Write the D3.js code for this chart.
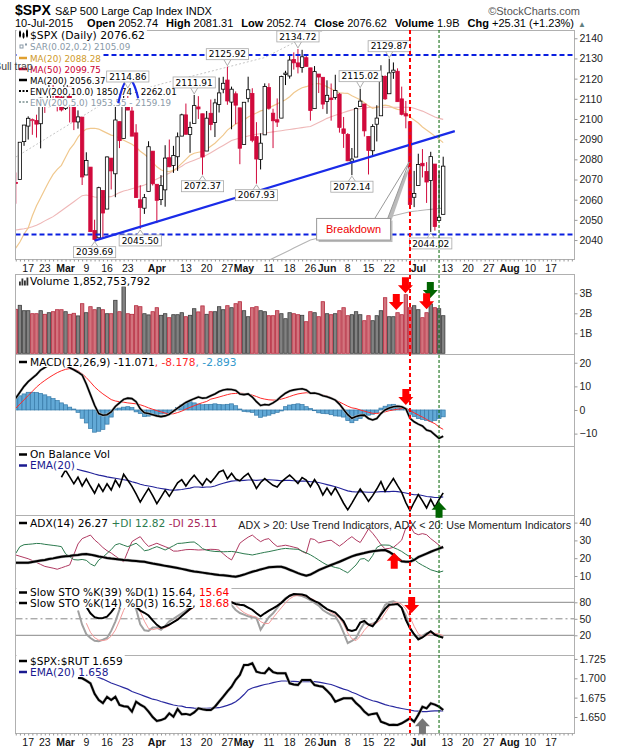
<!DOCTYPE html>
<html>
<head>
<meta charset="utf-8">
<script src="https://cdn.jsdelivr.net/npm/d3@7"></script>
<style>
body { margin: 0; background: #fff; }
svg { display: block; }
</style>
</head>
<body>
<div id="container"></div>
<script>
// ---------- calendar ----------
const holidays = ["2015-02-16", "2015-04-03", "2015-05-25", "2015-07-03"];
const firstDay = "2015-02-11";
const lastAxisDay = "2015-08-24";

// ---------- $SPX daily candles, 11-Feb-2015 .. 10-Jul-2015 ----------
const prevClose = 2068.59;
const opens = [2068.55,2069.98,2088.78,2096.47,2099.16,2099.25,2097.65,2109.83,2109.10,2115.30,2113.91,2110.88,
  2105.23,2115.76,2107.72,2098.54,2100.91,2072.25,2076.14,2044.69,2041.10,2064.56,2055.35,2080.59,2072.84,2098.69,2090.32,2107.99,2103.94,2093.10,2059.94,2055.78,2064.11,2084.05,
  2067.63,2060.03,2064.87,2080.79,2076.94,2081.29,2091.51,2102.03,2092.28,2097.82,2105.96,2102.58,2084.11,2102.82,2098.27,2107.21,2114.76,2119.29,2108.35,2112.49,2105.52,
  2087.38,2110.23,2112.63,2091.26,2079.96,2092.13,2115.56,2102.87,2099.62,2100.43,2122.07,2121.30,2129.45,2127.79,2125.55,2130.36,2125.34,2105.13,2122.27,2120.66,
  2108.64,2110.41,2110.64,2112.35,2095.09,2092.34,2079.07,2081.12,2106.24,2107.43,2091.34,2084.26,2097.40,2101.58,2121.06,2112.50,2123.16,2123.65,2109.96,2102.62,2098.63,2061.19,
  2067.00,2078.03,2073.95,2069.52,2077.66,2049.73,2052.74];
const highs = [2073.48,2088.53,2097.03,2101.30,2100.23,2102.13,2110.61,2110.05,2117.94,2119.59,2113.91,2112.74,
  2117.52,2115.76,2107.72,2104.25,2100.91,2083.49,2076.14,2050.08,2066.41,2064.56,2081.41,2080.59,2106.85,2098.69,2113.92,2114.86,2107.63,2097.43,2067.15,2062.83,2088.97,2084.05,
  2067.63,2072.17,2086.99,2089.81,2086.69,2093.31,2102.61,2107.65,2098.62,2111.91,2111.30,2102.58,2103.94,2109.64,2109.98,2120.49,2120.92,2125.92,2116.04,2113.65,2105.52,
  2108.41,2120.95,2115.24,2098.42,2092.90,2117.66,2117.69,2105.06,2110.19,2121.45,2123.89,2131.78,2133.02,2134.72,2134.28,2132.15,2125.34,2126.22,2122.27,2120.66,
  2119.15,2117.59,2121.92,2112.89,2100.99,2093.01,2085.62,2105.78,2115.02,2107.43,2091.34,2097.40,2106.79,2126.65,2121.64,2129.87,2128.03,2125.10,2116.04,2108.92,2098.63,2074.28,
  2082.78,2085.06,2078.61,2083.74,2077.66,2074.28,2081.31];
const lows = [2057.99,2069.98,2086.70,2089.80,2092.15,2090.79,2085.44,2103.00,2105.87,2109.89,2103.76,2103.75,
  2104.50,2098.26,2094.49,2095.22,2067.27,2072.21,2044.16,2039.69,2041.10,2041.17,2055.35,2065.08,2061.23,2085.56,2090.32,2104.42,2091.50,2061.05,2045.50,2052.96,2064.11,2067.04,
  2048.38,2057.32,2056.52,2076.10,2073.30,2074.29,2091.51,2092.33,2083.24,2097.82,2100.02,2072.37,2084.11,2094.38,2091.05,2103.19,2112.76,2107.04,2094.89,2097.41,2077.59,
  2087.38,2108.29,2088.46,2067.93,2074.99,2092.13,2104.58,2085.57,2096.04,2100.43,2116.81,2120.01,2124.50,2122.59,2122.95,2126.06,2099.18,2105.13,2112.86,2104.89,
  2102.54,2099.14,2109.61,2093.23,2085.67,2079.11,2072.14,2081.12,2106.24,2091.33,2072.49,2082.10,2088.86,2101.58,2109.45,2112.50,2119.89,2108.58,2101.78,2095.38,2056.64,2056.32,
  2067.00,2071.02,2058.40,2044.02,2044.66,2049.73,2052.74];
const closes = [2068.53,2088.48,2096.99,2100.34,2099.68,2097.45,2110.30,2109.66,2115.48,2113.86,2110.74,2104.50,
  2117.39,2107.78,2098.53,2101.04,2071.26,2079.43,2044.16,2040.24,2065.95,2053.40,2081.19,2074.28,2099.50,2089.27,2108.10,2104.42,2091.50,2061.05,2056.15,2061.02,2086.24,2067.89,
  2059.69,2066.96,2080.62,2076.33,2081.90,2091.18,2102.06,2092.43,2095.84,2106.63,2104.99,2081.18,2100.40,2097.29,2107.96,2112.93,2117.69,2108.92,2114.76,2106.85,2085.51,
  2108.29,2114.49,2089.46,2080.15,2088.00,2116.10,2105.33,2099.12,2098.48,2121.10,2122.73,2129.20,2127.83,2125.85,2130.82,2126.06,2104.20,2123.48,2120.79,2107.39,
  2111.73,2109.60,2114.07,2095.84,2092.83,2079.28,2080.15,2105.20,2108.86,2094.11,2084.43,2096.29,2100.44,2121.24,2109.99,2122.85,2124.20,2108.58,2102.31,2101.49,2057.64,2063.11,
  2077.42,2076.78,2068.76,2081.34,2046.68,2051.31,2076.62];

// overlays (price units)
const ma20 = [2036,2039,2043,2046,2052,2057,2061,2065,2069,2072.5,2075,2077,2081,2085,2087.5,2091,2093.5,2095,2095.3,2095.4,
  2095,2094,2093,2092,2091.5,2090.5,2089.5,2088.5,2087.5,2086,2084,2082.5,2080.8,2078.5,2076.3,2074.8,2074,2073.9,2074.5,2076,
  2078,2080,2082,2083,2083.5,2083.8,2085,2086.5,2088,2090,2092,2094.5,2096,2097.5,2098.5,2099.5,2101,2102,2103,2104,
  2104.5,2105.5,2106.5,2107.5,2108.5,2109.5,2111,2113,2114.4,2115.5,2116,2116.8,2117.5,2117.5,2117,2116,2115,2113.8,2113,2112.8,
  2112.7,2111.5,2110.5,2109.5,2108,2106.5,2105.3,2105.8,2106.5,2106.9,2106.5,2105.5,2104.8,2104.5,2103,2101,2099.5,2098,2096,2094.5,
  2093,2091.5,2090,2088.3];
const ma50 = [2045,2045.3,2045.6,2046,2046.6,2047.3,2048.3,2049.5,2050.6,2051.6,2053,2054.5,2056,2057.5,2059,2060.5,2062,2062.3,2061.8,2061.3,
  2061.2,2061.3,2061.4,2061.5,2062.5,2063.5,2064.3,2064.8,2065.4,2066,2066.6,2067.3,2068.2,2069.2,2070.3,2071.2,2072.2,2073.1,2074.3,2075.4,
  2076.6,2078,2078.8,2079.6,2080.4,2081.2,2082.1,2083.3,2084.5,2085.7,2086.9,2088.1,2089.3,2090,2090.6,2091.1,2091.6,2092.1,2092.4,2092.7,
  2093,2093.3,2093.6,2093.9,2094.2,2094.5,2094.8,2095.1,2095.4,2095.7,2096,2096.3,2097.3,2098.3,2099.3,2100.3,2101.1,2101.8,2102.5,2103.2,
  2103.9,2104.5,2104.8,2105.1,2105.4,2105.7,2105.8,2105.8,2105.8,2105.8,2105.8,2105.8,2105.8,2105.8,2105.8,2105.8,2105.3,2104.6,2103.9,2103,
  2102,2101,2100.3,2099.8];
const ma200 = [1982.0,1983.2,1984.4,1985.6,1986.8,1988.0,1989.2,1990.4,1991.6,1992.8,1994.0,1995.2,1996.4,1997.6,1998.8,2000.0,2001.2,2002.4,2003.6,2004.8,
  2006.0,2006.8,2007.6,2008.4,2009.2,2010.0,2010.7,2011.4,2012.1,2012.8,2013.5,2014.1,2014.7,2015.3,2015.9,2016.5,2017.0,2017.5,2018.0,2018.5,
  2019.0,2019.5,2020.0,2020.5,2021.0,2021.5,2022.0,2022.5,2023.0,2023.5,2024.0,2024.5,2025.0,2025.5,2026.0,2026.5,2027.0,2027.5,2028.0,2028.5,
  2029.0,2030.0,2031.0,2032.0,2033.0,2034.0,2035.0,2036.0,2037.0,2038.0,2039.0,2040.0,2040.5,2041.0,2041.6,2042.3,2043.0,2043.8,2044.5,2045.2,
  2046.0,2046.7,2047.4,2048.0,2048.5,2049.0,2049.5,2050.0,2050.5,2051.0,2051.5,2052.0,2052.5,2053.0,2053.5,2054.0,2054.3,2054.5,2054.8,2055.0,
  2055.2,2055.4,2055.6,2055.8];
const envPct = 5.0;

// volume, billions of shares
const volume = [2.2,2.4,2.13,2.13,1.98,1.98,2.13,1.95,2.03,2.08,2.18,2.18,
  2.08,1.95,2.0,1.87,2.48,2.03,2.33,2.18,2.28,2.18,1.98,1.98,2.65,2.08,3.33,1.98,1.95,2.38,2.33,1.98,1.92,2.08,
  2.28,1.9,1.98,1.78,1.93,1.93,2.03,1.83,1.9,2.23,2.07,2.37,1.95,2.08,2.08,2.33,2.18,2.38,2.28,2.48,2.58,
  2.13,1.83,2.28,2.33,2.13,2.08,1.88,1.88,2.13,1.98,1.73,2.03,1.98,1.93,1.9,1.58,2.08,2.03,1.83,2.58,
  1.98,1.93,1.98,2.13,2.28,1.88,1.93,2.08,1.93,1.63,1.88,1.63,1.88,2.13,2.78,1.83,1.83,2.03,1.93,2.93,2.28,2.38,
  2.18,1.78,2.03,2.47,2.28,2.23,1.88];

// MACD(12,26,9)
const macd = [5.0,7.5,10.0,12.0,13.5,15.0,16.9,18.0,19.0,19.5,19.6,19.3,19.0,17.9,17.0,16.0,14.8,11.0,6.5,2.0,
  -1.5,-2.2,-2.0,-0.8,1.5,3.0,4.5,5.0,4.8,3.5,0.5,-1.2,-1.5,-2.0,-2.5,-2.8,-2.5,-1.8,-0.5,0.8,
  2.0,3.2,4.0,4.8,5.5,5.0,5.2,6.0,6.8,7.8,8.5,8.8,8.7,8.3,6.8,6.5,6.8,5.5,3.5,1.9,
  2.3,2.1,3.0,4.2,5.8,7.1,8.0,8.5,8.8,9.0,8.5,7.1,7.2,6.8,6.0,5.6,5.0,4.2,2.5,0.2,
  -2.0,-3.5,-2.8,-2.3,-2.2,-3.6,-4.2,-3.6,-1.5,0.0,0.8,1.4,1.6,1.4,0.5,-3.5,-5.0,-6.0,-6.8,-8.5,
  -9.0,-10.5,-12.0,-11.1];
const macdSignal = [0.7,2.5,4.3,6.1,7.9,9.7,11.2,12.5,13.7,14.8,15.8,16.6,17.2,17.5,17.3,16.6,15.3,13.7,11.8,9.8,
  8.2,6.8,5.6,4.4,3.8,3.5,3.3,3.0,2.8,2.6,2.2,1.6,0.9,0.3,-0.3,-0.8,-1.3,-1.7,-1.6,-1.1,
  -0.5,0.4,1.1,1.8,2.5,3.1,3.6,4.6,5.0,5.5,6.0,6.5,6.9,7.0,7.1,7.0,6.8,6.3,5.7,5.0,
  4.6,4.3,4.2,4.2,4.6,5.1,5.7,6.3,6.8,7.1,7.3,7.2,7.1,6.8,6.3,5.9,5.2,4.3,3.4,2.5,
  1.6,0.9,0.6,0.0,-0.5,-1.0,-1.4,-1.5,-1.2,-0.8,-0.3,0.0,0.3,0.6,0.7,-0.2,-1.2,-2.1,-3.0,-4.0,
  -5.0,-5.8,-7.2,-8.2];
const macdHist = [5.2,6.0,6.8,7.5,7.5,7.4,7.0,6.4,5.6,4.8,4.0,3.0,2.2,1.2,0.4,-1.0,-3.5,-5.5,-7.8,-9.4,
  -9.0,-8.2,-6.0,-3.0,0.5,0.8,1.2,1.4,1.0,-0.8,-1.5,-2.8,-2.6,-2.3,-2.0,-1.7,-1.4,-1.2,-0.6,1.0,
  2.1,3.0,3.5,3.0,2.5,2.2,2.3,2.4,2.6,2.3,2.2,2.4,2.6,1.8,0.4,-0.6,-0.8,-1.0,-2.2,-3.1,
  -2.6,-2.2,-1.6,-1.0,-0.4,1.4,2.1,2.4,2.6,2.3,1.4,0.6,-0.3,-1.2,-1.5,-1.6,-2.0,-2.5,-2.6,-3.0,
  -4.5,-5.4,-4.4,-3.6,-2.8,-2.2,-1.8,-1.0,0.8,1.6,2.2,2.4,2.0,1.4,0.4,-1.8,-2.8,-3.6,-4.0,-4.4,
  -4.9,-4.4,-3.6,-2.9];

// On Balance Volume (billions, relative) from 27-Feb, EMA(20) from 2-Mar
const obvFrom = "2015-02-27";
const obv = [-2.50,-0.42,-2.37,-4.37,-2.50,-4.98,-2.95,-5.08,-7.06,
  -4.58,-6.56,-4.38,-6.16,-3.31,-5.19,-1.66,-3.34,-5.09,-7.27,
  -9.60,-7.62,-5.70,-7.78,-10.06,-8.16,-6.18,-7.96,-6.03,-4.10,
  -3.2,-5.0,-3.3,-1.9,-3.4,-4.8,-2.9,-4.0,-2.6,-1.0,
  -0.5,-2.9,-1.4,-3.0,-3.5,-2.3,-1.4,-3.4,-5.7,-4.0,
  -2.9,-3.9,-4.8,-5.3,-3.8,-2.8,-1.9,-3.0,-4.3,-2.6,
  -3.3,-5.17,-3.14,-4.97,-7.55,-5.57,-7.50,-5.52,-7.65,-9.93,
  -11.81,-9.88,-7.80,-5.87,-7.50,-9.38,-7.75,-5.87,-3.74,-6.52,
  -4.69,-2.86,-4.89,-6.82,-9.75,-12.03,-9.65,-7.47,-9.25,-11.28,
  -8.81,-11.09,-8.86,-6.98];
const obvEmaFrom = "2015-03-02";
const obvEma = [0.5,0.3,0.0,-0.3,-0.6,-0.9,-1.2,-1.6,
  -1.9,-2.1,-2.4,-2.6,-2.8,-3.0,-3.2,-3.4,-3.8,-4.1,
  -4.5,-4.8,-5.0,-5.2,-5.5,-5.7,-5.9,-6.1,-6.2,-6.1,
  -6.0,-5.8,-5.6,-5.3,-5.3,-5.4,-5.3,-5.3,-5.0,-4.6,
  -4.2,-3.9,-3.6,-3.5,-3.5,-3.4,-3.3,-3.3,-3.4,-3.3,
  -3.2,-3.2,-3.3,-3.4,-3.5,-3.4,-3.4,-3.5,-3.6,-3.6,
  -3.6,-3.8,-3.8,-4.0,-4.3,-4.6,-4.9,-5.2,-5.6,-6.0,
  -6.4,-6.6,-6.7,-6.6,-6.7,-6.8,-6.8,-6.7,-6.6,-6.6,
  -6.6,-6.5,-6.6,-6.8,-7.0,-7.3,-7.5,-7.5,-7.7,-8.0,
  -8.1,-8.3,-8.3,-8.1];

// ADX(14), +DI, -DI
const adx = [17.5,17.5,17.5,17.5,17.9,18.3,18.7,19.0,19.5,19.9,20.4,20.8,21.1,21.3,21.6,21.8,22.2,22.4,22.0,21.5,
  21.0,20.6,20.1,19.8,19.6,19.3,19.0,18.8,18.6,18.4,18.2,18.0,17.5,17.0,16.6,16.2,15.7,15.3,14.9,14.5,
  14.0,13.5,13.0,12.5,12.2,11.9,11.6,11.2,10.9,10.6,10.4,10.1,9.8,9.6,10.1,10.8,11.6,12.4,13.0,13.7,
  14.3,14.9,15.1,15.2,15.2,14.5,13.5,12.6,11.6,10.8,10.2,10.8,12.0,13.3,14.3,15.3,16.2,17.1,18.0,19.0,
  20.0,21.0,21.8,22.4,22.9,23.5,23.9,24.2,24.5,24.6,23.5,22.0,20.0,18.3,18.0,18.0,19.0,20.6,21.6,22.6,
  23.6,24.5,25.4,26.3];
const plusDI = [22.7,26.5,27.6,27.8,28.0,28.3,28.2,27.8,27.5,27.2,26.9,26.5,22.5,20.8,19.2,19.0,19.3,18.8,16.8,15.6,
  19.0,20.6,22.7,24.8,27.5,28.2,27.3,26.5,27.4,28.4,26.5,24.2,24.6,25.6,26.5,25.6,24.6,25.8,27.0,28.3,
  28.4,28.7,29.0,29.1,27.5,25.4,24.5,24.1,23.8,23.7,23.6,23.7,23.8,23.5,23.0,22.5,22.2,21.8,22.3,22.8,
  23.3,23.7,24.2,24.7,25.2,25.5,25.3,25.1,25.0,24.0,23.0,21.9,20.5,19.0,17.5,16.2,15.5,14.8,14.3,13.0,
  11.8,14.0,16.2,19.5,19.8,18.2,21.5,26.0,27.4,27.4,27.3,26.0,25.0,23.8,22.2,20.8,19.3,17.4,16.0,14.8,
  13.5,12.8,12.1,12.8];
const minusDI = [21.8,21.1,20.4,19.7,18.7,17.6,16.5,15.4,14.9,14.4,13.8,14.6,15.4,16.2,22.0,28.0,31.0,32.0,33.0,30.3,
  28.3,26.0,24.2,22.9,21.2,19.5,18.0,23.8,29.3,30.8,32.1,29.0,26.6,27.5,28.4,27.4,26.5,25.5,24.0,24.0,
  24.4,24.8,24.9,24.8,24.6,24.7,24.8,25.0,24.9,24.6,22.5,20.5,19.0,23.5,28.4,30.2,31.8,33.0,31.0,29.3,
  30.5,31.0,28.5,26.6,26.9,27.3,26.8,26.2,25.6,23.8,22.7,31.0,30.5,28.6,29.2,29.8,30.1,28.4,26.8,28.5,
  30.5,32.1,30.2,28.8,32.5,36.5,34.0,31.0,27.6,25.3,25.5,26.1,28.0,30.2,37.0,38.2,34.2,33.2,33.8,33.2,
  31.0,29.2,27.3,25.5];

// Slow stochastics
const stoK14From = "2015-03-05";
const stoK14 = [65,39.3,22,15.1,10,9.1,12,15.1,28,45,
  66.5,85,88,82,68,40,29,28,34,34,
  30.2,37,45.5,50,55,60,65,72,77,81.5,
  76,75,80,84.7,87,89,83,75,66,60.5,
  57.5,54.5,53,51.5,30.2,42,53,60,70,80,
  87.5,91.5,93.8,93,91.5,88,84,79,74,66,
  61,57,54.5,42,25,6.0,10,15.1,30,42.4,
  40,41,45.5,60,75,80,81.8,78,70,56,
  33.3,20,15.1,19,24,26,21.5,20,16.5];
const stoFrom = "2015-03-09";
const stoK39 = [72,60,53,51,51.5,54,62,72,80,86,
  87,82,72,65,61,56,47,39,33.5,36,
  39.3,44,48.4,55,61.5,68,72.5,76,75,71,
  74,80,84.5,87.5,84,80,77,75.5,74.5,70.5,
  66.5,60,54.5,60,64.7,69,73.5,79,86,92,
  95.1,94.8,94.3,92,86,82,79,73,67.5,64.5,
  61.5,54,45.5,30,28,30.2,43,46,39.3,36.5,
  46,57.5,68,75.6,76.2,76.9,70,48,33,22,
  12.5,16,22,27.3,21,18,15.6];
const stoD3 = [42,25.5,15.7,11.4,10.4,12.1,18.4,29.4,46.5,65.5,
  79.8,85,79.3,63.3,45.7,32.3,30.3,32,32.7,33.7,
  37.6,44.2,50.2,55,60,65.7,71.3,76.8,78.2,77.5,
  77,79.9,83.9,86.9,86.3,82.3,74.7,67.2,61.3,57.5,
  55,53,44.9,41.2,41.7,51.7,61,70,79.2,86.3,
  90.9,92.8,92.8,90.8,87.8,83.7,79,73,67,61.3,
  57.5,51.2,40.5,24.3,13.7,10.4,18.4,29.2,37.5,41.1,
  42.2,48.8,60.2,71.7,78.9,79.9,76.6,68,53.1,36.4,
  22.8,18,19.4,23,23.8,22.5,19.3];

// $SPX:$RUT ratio and EMA(20)
const rutFrom = "2015-03-05";
const spxRut = [1.7008,1.700,1.697,1.6935,1.680,1.672,1.668,1.676,1.672,1.676,
  1.6655,1.664,1.6633,1.657,1.6698,1.666,1.663,1.657,1.650,1.6448,
  1.646,1.6483,1.6548,1.6504,1.6603,1.6535,1.654,1.6526,1.656,1.6612,
  1.660,1.659,1.659,1.6633,1.670,1.6762,1.683,1.6891,1.698,1.7043,
  1.7172,1.7172,1.7194,1.7085,1.707,1.7065,1.7129,1.708,1.7065,1.7065,
  1.7065,1.6935,1.692,1.6913,1.6978,1.6978,1.6978,1.6913,1.690,1.6891,
  1.684,1.6784,1.6698,1.672,1.6741,1.6741,1.6741,1.668,1.6633,1.657,
  1.6526,1.654,1.6548,1.644,1.642,1.6397,1.640,1.6397,1.6419,1.645,
  1.6483,1.644,1.653,1.6633,1.6612,1.6677,1.666,1.6633,1.659];
const rutEmaFrom = "2015-03-11";
const spxRutEma = [1.7035,1.701,1.699,1.6965,1.694,1.692,1.690,1.688,1.686,1.683,
  1.681,1.679,1.677,1.675,1.673,1.672,1.670,1.6685,1.667,1.6655,
  1.6645,1.664,1.6625,1.662,1.6615,1.6612,1.6612,1.6613,1.6615,1.6618,
  1.662,1.6635,1.665,1.667,1.6698,1.674,1.679,1.685,1.6875,1.689,
  1.6905,1.692,1.693,1.6945,1.6955,1.6965,1.6965,1.6962,1.696,1.6957,
  1.6956,1.6956,1.6956,1.6956,1.695,1.694,1.693,1.692,1.690,1.688,
  1.686,1.6845,1.682,1.680,1.6775,1.675,1.673,1.671,1.6698,1.668,
  1.666,1.6645,1.6633,1.662,1.661,1.660,1.659,1.658,1.6575,1.657,
  1.657,1.6575,1.658,1.658,1.658];

// axis ticks
const dateTicks = [["2015-02-17","17"],["2015-02-23","23"],["2015-03-02","Mar",1],["2015-03-09","9"],["2015-03-16","16"],
  ["2015-03-23","23"],["2015-04-01","Apr",1],["2015-04-13","13"],["2015-04-20","20"],["2015-04-27","27"],["2015-05-01","May",1],
  ["2015-05-11","11"],["2015-05-18","18"],["2015-05-26","26"],["2015-06-01","Jun",1],["2015-06-08","8"],["2015-06-15","15"],
  ["2015-06-22","22"],["2015-07-01","Jul",1],["2015-07-13","13"],["2015-07-20","20"],["2015-07-27","27"],["2015-08-03","Aug",1],
  ["2015-08-10","10"],["2015-08-17","17"]];
const priceTicks = [2040, 2050, 2060, 2070, 2080, 2090, 2100, 2110, 2120, 2130, 2140];
const volTicks = [1, 2, 3];
const macdTicks = [-10, 0, 10, 20];
const adxTicks = [10, 20, 30, 40];
const stoTicks = [20, 50, 80];
const rutTicks = [1.650, 1.675, 1.700, 1.725];

// annotations
const hLevels = [2131.7, 2042.8];
const trendLine = [[19, 2039.7], [105.8, 2094]];
const bullTrapArc = [[24.7, 2107.8], [27.1, 2130.35], [29.5, 2110.3]];
const priceTags = [["2015-03-11", 2039.69, "below"], ["2015-03-26", 2045.50, "below"], ["2015-03-23", 2114.86, "above"],
  ["2015-04-15", 2111.91, "above"], ["2015-04-27", 2125.92, "above"], ["2015-04-17", 2072.37, "below"],
  ["2015-05-06", 2067.93, "below"], ["2015-05-20", 2134.72, "above"], ["2015-06-22", 2129.87, "above"],
  ["2015-06-11", 2115.02, "above"], ["2015-06-09", 2072.14, "below"], ["2015-07-07", 2044.02, "below"]];
const redLineDay = "2015-06-29";
const greenLineDay = "2015-07-09";

// ---------- layout ----------
const ARIAL = "'Liberation Sans', Arial, sans-serif";
const LEG = "'DejaVu Sans', Verdana, sans-serif";
const L = 15.5, R = 574.5;
const panels = {
  price: [30, 259], vol: [274, 354], macd: [354, 446], obv: [446, 515],
  adx: [515, 588], sto: [588, 655], rut: [655, 733]
};

const days = [];
for (let t = Date.parse(firstDay + "T00:00:00Z"); t <= Date.parse(lastAxisDay + "T00:00:00Z"); t += 864e5) {
  const d = new Date(t), s = d.toISOString().slice(0, 10), wd = d.getUTCDay();
  if (wd > 0 && wd < 6 && !holidays.includes(s)) days.push(s);
}
const idx = s => days.indexOf(s);
const series = (arr, from) => arr.map((v, k) => ({ i: idx(from) + k, v }));

const x = d3.scaleLinear().domain([0, 134.4]).range([15.75, 573.5]);
const yP = d3.scaleLinear().domain([2031.1, 2144.1]).range([258, 30]);
const yV = d3.scaleLinear().domain([0, 4]).range([353.3, 273.3]);
const yM = d3.scaleLinear().domain([-15.25, 23.7]).range([446, 354]);
const yO = d3.scaleLinear().domain([-13.29, 6.43]).range([515, 446]);
const yA = d3.scaleLinear().domain([3.26, 44.27]).range([588, 515]);
const yS = d3.scaleLinear().domain([-15.8, 106]).range([655, 588]);
const yR = d3.scaleLinear().domain([1.62933, 1.7301]).range([733, 655]);

const svg = d3.select("#container").append("svg")
  .attr("width", 620).attr("height", 750)
  .style("font-family", ARIAL);

const defs = svg.append("defs");
Object.entries(panels).forEach(([k, p]) => {
  defs.append("clipPath").attr("id", "clip-" + k)
    .append("rect").attr("x", L).attr("y", p[0]).attr("width", R - L).attr("height", p[1] - p[0]);
});
const layer = k => svg.append("g").attr("clip-path", `url(#clip-${k})`);

// ---------- header ----------
svg.append("text").attr("x", 15).attr("y", 15).style("font-weight", "bold").style("font-size", "14px").text("$SPX");
svg.append("text").attr("x", 55).attr("y", 15).style("font-size", "11px").text("S&P 500 Large Cap Index INDX");
svg.append("text").attr("x", 580).attr("y", 15).attr("text-anchor", "end").style("font-size", "11px").attr("fill", "#555").text("\u00a9StockCharts.com");
const headerStats = [["Open", "2052.74"], ["High", "2081.31"], ["Low", "2052.74"], ["Close", "2076.62"], ["Volume", "1.9B"], ["Chg", "+25.31 (+1.23%)"]];
const hdr = svg.append("text").attr("x", 15).attr("y", 27).style("font-size", "11px");
hdr.append("tspan").text("10-Jul-2015");
headerStats.forEach(([k, v], n) => {
  hdr.append("tspan").attr("dx", n === 0 ? 14 : 8).style("font-weight", "bold").text(k);
  hdr.append("tspan").text(" " + v);
});
hdr.append("tspan").attr("dx", 4).attr("fill", "#5f7f7f").style("font-size", "8px").text("\u25b2");

// ---------- price panel ----------
const gP = layer("price");
const linePrice = d3.line().x(d => x(d.i)).y(d => yP(d.v));
gP.append("path").datum(series(ma200.map(v => v * (1 + envPct / 100)), firstDay))
  .attr("d", linePrice).attr("fill", "none").attr("stroke", "#c4c4c4").attr("stroke-width", 1).attr("stroke-dasharray", "2,2");
gP.append("path").datum(series(ma200, firstDay)).attr("d", linePrice).attr("fill", "none").attr("stroke", "#b5b5b5").attr("stroke-width", 1.1);
gP.append("path").datum(series(ma50, firstDay)).attr("d", linePrice).attr("fill", "none").attr("stroke", "#efb8b8").attr("stroke-width", 1.1);
gP.append("path").datum(series(ma20, firstDay)).attr("d", linePrice).attr("fill", "none").attr("stroke", "#f0c88e").attr("stroke-width", 1.2);

const candles = opens.map((o, k) => ({
  i: k, o, h: highs[k], l: lows[k], c: closes[k], prev: k ? closes[k - 1] : prevClose
}));
const RED = "#d10a3c";
const cg = gP.append("g");
cg.selectAll("line").data(candles).enter().append("line")
  .attr("x1", d => x(d.i)).attr("x2", d => x(d.i))
  .attr("y1", d => yP(d.h)).attr("y2", d => yP(d.l))
  .attr("stroke", d => d.c < d.prev ? RED : "#000").attr("stroke-width", 1);
cg.selectAll("rect").data(candles).enter().append("rect")
  .attr("x", d => x(d.i) - 1.7).attr("width", 3.4)
  .attr("y", d => yP(Math.max(d.o, d.c)))
  .attr("height", d => Math.max(1, Math.abs(yP(d.o) - yP(d.c))))
  .attr("fill", d => d.c > d.o ? "#fff" : (d.c < d.prev ? RED : "#000"))
  .attr("stroke", d => d.c < d.prev ? RED : "#000").attr("stroke-width", 0.8);

// horizontal levels and trend line
hLevels.forEach(p => {
  gP.append("line").attr("x1", L).attr("x2", R).attr("y1", yP(p)).attr("y2", yP(p))
    .attr("stroke", "#0a1fe0").attr("stroke-width", 2).attr("stroke-dasharray", "5,3");
});
gP.append("line")
  .attr("x1", x(trendLine[0][0])).attr("y1", yP(trendLine[0][1]))
  .attr("x2", x(trendLine[1][0])).attr("y2", yP(trendLine[1][1]))
  .attr("stroke", "#1a2be8").attr("stroke-width", 2.2);

// ---------- volume ----------
const gV = layer("vol");
gV.selectAll("rect").data(candles).enter().append("rect")
  .attr("x", d => x(d.i) - 1.7).attr("width", 3.4)
  .attr("y", d => yV(volume[d.i])).attr("height", d => yV(0) - yV(volume[d.i]))
  .attr("fill", d => d.c < d.prev ? "#d2747e" : "#828282")
  .attr("stroke", d => d.c < d.prev ? "#b52a3e" : "#3c3c3c").attr("stroke-width", 0.8);

// ---------- MACD ----------
const gM = layer("macd");
const hist = series(macdHist, firstDay);
gM.selectAll("rect").data(hist).enter().append("rect")
  .attr("x", d => x(d.i) - 2).attr("width", 4)
  .attr("y", d => yM(Math.max(0, d.v))).attr("height", d => Math.abs(yM(d.v) - yM(0)))
  .attr("fill", "#62a9d6").attr("stroke", "#3579a8").attr("stroke-width", 0.7);
const lineM = d3.line().x(d => x(d.i)).y(d => yM(d.v));
gM.append("path").datum(series(macdSignal, firstDay)).attr("d", lineM).attr("fill", "none").attr("stroke", "#ff2a2a").attr("stroke-width", 1);
gM.append("path").datum(series(macd, firstDay)).attr("d", lineM).attr("fill", "none").attr("stroke", "#bbb").attr("stroke-width", 2.6);
gM.append("path").datum(series(macd, firstDay)).attr("d", lineM).attr("fill", "none").attr("stroke", "#000").attr("stroke-width", 1.6);

// ---------- OBV ----------
const gO = layer("obv");
const lineO = d3.line().x(d => x(d.i)).y(d => yO(d.v));
gO.append("path").datum(series(obvEma, obvEmaFrom)).attr("d", lineO).attr("fill", "none").attr("stroke", "#23239a").attr("stroke-width", 1.1);
gO.append("path").datum(series(obv, obvFrom)).attr("d", lineO).attr("fill", "none").attr("stroke", "#000").attr("stroke-width", 1.6);

// ---------- ADX ----------
const gA = layer("adx");
const lineA = d3.line().x(d => x(d.i)).y(d => yA(d.v));
gA.append("path").datum(series(minusDI, firstDay)).attr("d", lineA).attr("fill", "none").attr("stroke", "#b03a62").attr("stroke-width", 1);
gA.append("path").datum(series(plusDI, firstDay)).attr("d", lineA).attr("fill", "none").attr("stroke", "#2c7a4e").attr("stroke-width", 1);
gA.append("path").datum(series(adx, firstDay)).attr("d", lineA).attr("fill", "none").attr("stroke", "#aaa").attr("stroke-width", 3);
gA.append("path").datum(series(adx, firstDay)).attr("d", lineA).attr("fill", "none").attr("stroke", "#000").attr("stroke-width", 2);

// ---------- Stochastics ----------
const gS = layer("sto");
[[80, null], [50, "7,3,2,3"], [20, null]].forEach(([v, dash]) => {
  gS.append("line").attr("x1", L).attr("x2", R).attr("y1", yS(v)).attr("y2", yS(v))
    .attr("stroke", "#888").attr("stroke-width", 1).attr("stroke-dasharray", dash);
});
const lineS = d3.line().x(d => x(d.i)).y(d => yS(d.v));
gS.append("path").datum(series(stoK14, stoK14From)).attr("d", lineS).attr("fill", "none").attr("stroke", "#a0a0a0").attr("stroke-width", 2);
gS.append("path").datum(series(stoD3, stoFrom)).attr("d", lineS).attr("fill", "none").attr("stroke", "#f29a9a").attr("stroke-width", 1);
gS.append("path").datum(series(stoK39, stoFrom)).attr("d", lineS).attr("fill", "none").attr("stroke", "#000").attr("stroke-width", 2);

// ---------- SPX:RUT ----------
const gR = layer("rut");
const lineR = d3.line().x(d => x(d.i)).y(d => yR(d.v));
gR.append("path").datum(series(spxRutEma, rutEmaFrom)).attr("d", lineR).attr("fill", "none").attr("stroke", "#2a2aa0").attr("stroke-width", 1.2);
gR.append("path").datum(series(spxRut, rutFrom)).attr("d", lineR).attr("fill", "none").attr("stroke", "#bbb").attr("stroke-width", 3);
gR.append("path").datum(series(spxRut, rutFrom)).attr("d", lineR).attr("fill", "none").attr("stroke", "#000").attr("stroke-width", 2);

// ---------- frames and axes ----------
Object.values(panels).forEach(p => {
  svg.append("rect").attr("x", L).attr("y", p[0] + 0.5).attr("width", R - L).attr("height", p[1] - p[0])
    .attr("fill", "none").attr("stroke", "#b0b0b0");
});
function rightAxis(scale, vals, fmt) {
  svg.append("g").attr("transform", `translate(${R},0)`)
    .call(d3.axisRight(scale).tickValues(vals).tickFormat(fmt).tickSize(3).tickPadding(2))
    .call(g => g.select(".domain").remove())
    .call(g => g.selectAll("line").attr("stroke", "#999"))
    .call(g => g.selectAll("text").style("font-family", ARIAL).style("font-size", "10.5px").attr("fill", "#222"));
}
rightAxis(yP, priceTicks, d3.format("d"));
rightAxis(yV, volTicks, d => d + "B");
rightAxis(yM, macdTicks, d3.format("d"));
rightAxis(yA, adxTicks, d3.format("d"));
rightAxis(yS, stoTicks, d3.format("d"));
rightAxis(yR, rutTicks, d3.format(".3f"));

function dateAxis(yLine, yText) {
  svg.append("g").attr("transform", `translate(0,${yLine})`)
    .call(d3.axisBottom(x).tickValues(d3.range(days.length)).tickSize(2).tickFormat(""))
    .call(g => g.select(".domain").remove())
    .call(g => g.selectAll("line").attr("stroke", "#999"));
  const g = svg.append("g");
  g.selectAll("text").data(dateTicks).enter().append("text")
    .attr("x", d => x(idx(d[0]))).attr("y", yText).attr("text-anchor", "middle")
    .style("font-size", "10.5px").style("font-weight", d => d[2] ? "bold" : "normal")
    .attr("fill", "#111").text(d => d[1]);
}
dateAxis(panels.price[1] + 0.5, 271.5);
dateAxis(panels.rut[1] + 0.5, 746);

// ---------- legends ----------
function legend(yBase, parts, icon, size) {
  const g = svg.append("g");
  const t = g.append("text").attr("x", 30).attr("y", yBase)
    .style("font-family", LEG).style("font-size", (size || 10.6) + "px");
  parts.forEach(p => t.append("tspan").attr("fill", p[1]).text(p[0]));
  const bb = t.node().getBBox();
  g.insert("rect", "text").attr("x", L + 1).attr("y", bb.y + 0.5)
    .attr("width", bb.x + bb.width - L + 1).attr("height", bb.height - 1).attr("fill", "#fff");
  const cy = yBase - 3.5;
  if (icon.type === "dash") {
    g.append("line").attr("x1", 19).attr("x2", 27).attr("y1", cy).attr("y2", cy)
      .attr("stroke", icon.c).attr("stroke-width", 2.5);
  } else if (icon.type === "dot") {
    g.append("line").attr("x1", 19).attr("x2", 28).attr("y1", cy).attr("y2", cy)
      .attr("stroke", icon.c).attr("stroke-width", 2).attr("stroke-dasharray", "2,1.5");
  } else if (icon.type === "sar") {
    g.append("rect").attr("x", 20).attr("y", cy - 1.5).attr("width", 3).attr("height", 3).attr("fill", "none").attr("stroke", "#8a9aa8");
    g.append("rect").attr("x", 25).attr("y", cy - 3).attr("width", 2).attr("height", 2).attr("fill", "#8a9aa8");
  } else if (icon.type === "candle") {
    [[20, -4, 5], [23.5, -2, 4], [27, -5, 6]].forEach(([cx, dy, hh]) => {
      g.append("line").attr("x1", cx).attr("x2", cx).attr("y1", cy + dy - 1).attr("y2", cy + dy + hh + 1).attr("stroke", "#000");
      g.append("rect").attr("x", cx - 1).attr("y", cy + dy).attr("width", 2).attr("height", hh).attr("fill", "#000");
    });
  } else if (icon.type === "bars") {
    [[19, 4], [21.5, 7], [24, 5], [26.5, 8]].forEach(([bx, bh]) => {
      g.append("rect").attr("x", bx).attr("y", cy + 4 - bh).attr("width", 1.8).attr("height", bh).attr("fill", "#333");
    });
  }
}
legend(39, [["$SPX (Daily) 2076.62", "#000"]], { type: "candle" }, 10.8);
legend(50, [["SAR(0.02,0.2) 2105.09", "#8a9aa8"]], { type: "sar" }, 8.8);
legend(61.5, [["MA(20) 2088.28", "#cf9a2a"]], { type: "dash", c: "#e0a030" }, 8.8);
legend(72.5, [["MA(50) 2099.75", "#cc0033"]], { type: "dash", c: "#cc0033" }, 8.8);
legend(83.5, [["MA(200) 2056.37", "#000"]], { type: "dash", c: "#000" }, 8.7);
legend(94.5, [["ENV(200,10.0) 1850.74 - 2262.01", "#000"]], { type: "dot", c: "#000" }, 8.7);
legend(105.5, [["ENV(200,5.0) 1953.55 - 2159.19", "#8a9aa8"]], { type: "dot", c: "#9aa" }, 8.7);
legend(285, [["Volume 1,852,753,792", "#000"]], { type: "bars" });
legend(365.5, [["MACD(12,26,9) -11.071", "#000"], [", -8.178", "#ff2a2a"], [", -2.893", "#3399cc"]], { type: "dash", c: "#000" });
legend(458, [["On Balance Vol", "#000"]], { type: "dash", c: "#000" });
legend(469, [["EMA(20)", "#1a1a90"]], { type: "dash", c: "#1a1a90" });
legend(526.5, [["ADX(14) 26.27 ", "#000"], ["+DI 12.82 ", "#2c7a4e"], ["-DI 25.11", "#a8285a"]], { type: "dash", c: "#000" });
legend(596, [["Slow STO %K(39) %D(1) 15.64, ", "#000"], ["15.64", "#ff0000"]], { type: "dash", c: "#000" });
legend(606.5, [["Slow STO %K(14) %D(3) 16.52, ", "#000"], ["18.68", "#ff0000"]], { type: "dash", c: "#000" });
legend(664.5, [["$SPX:$RUT 1.659", "#000"]], { type: "dash", c: "#000" });
legend(675.5, [["EMA(20) 1.658", "#1a1a90"]], { type: "dash", c: "#1a1a90" });

svg.append("text").attr("x", 571).attr("y", 528.5).attr("text-anchor", "end")
  .style("font-size", "10.7px").attr("fill", "#222")
  .text("ADX > 20: Use Trend Indicators, ADX < 20: Use Momentum Indicators");
svg.append("text").attr("x", x(-5.2)).attr("y", yP(2124.3)).style("font-size", "10.5px").attr("fill", "#444").text("Bull trap");

// bull-trap arc over the legend rows
svg.append("path")
  .attr("d", `M${x(bullTrapArc[0][0])},${yP(bullTrapArc[0][1])} Q${x(bullTrapArc[1][0])},${yP(bullTrapArc[1][1])} ${x(bullTrapArc[2][0])},${yP(bullTrapArc[2][1])}`)
  .attr("fill", "none").attr("stroke", "#1a2be8").attr("stroke-width", 2.2);

// ---------- price tags ----------
priceTags.forEach(([day, p, pos]) => {
  const cx = x(idx(day)), py = yP(p), h = 11;
  const g = svg.append("g");
  const t = g.append("text").attr("x", cx).attr("text-anchor", "middle")
    .style("font-family", LEG).style("font-size", "9px").text(p.toFixed(2));
  const w = t.node().getComputedTextLength() + 5;
  const top = pos === "above" ? py - 7 - h : py + 6;
  t.attr("y", top + 8.6);
  const base = pos === "above" ? top + h : top;
  const tip = pos === "above" ? py - 1 : py + 1;
  g.insert("path", "text").attr("d", `M${cx - 3.5},${base}L${cx},${tip}L${cx + 3.5},${base}`)
    .attr("fill", "#fff").attr("stroke", "#9a9a9a").attr("stroke-width", 0.8);
  g.insert("rect", "text").attr("x", cx - w / 2).attr("y", top).attr("width", w).attr("height", h)
    .attr("fill", "#fff").attr("stroke", "#a8a8a8").attr("stroke-width", 0.8);
});

// Breakdown callout
const bx0 = x(72.5), bx1 = x(90.3), by0 = yP(2050.7), by1 = yP(2040);
const tipX = x(94.8), tipY = yP(2078.7);
const callout = svg.append("g");
callout.append("path").attr("d", `M${bx1 - 14},${by0 + 2}L${tipX + 2},${tipY + 2}L${bx1 + 1},${by0 + 2}Z`).attr("fill", "#bbb");
callout.append("rect").attr("x", bx0 + 2).attr("y", by0 + 2).attr("width", bx1 - bx0).attr("height", by1 - by0).attr("fill", "#bbb");
callout.append("path").attr("d", `M${bx1 - 16},${by0 + 0.5}L${tipX},${tipY}L${bx1 - 3},${by0 + 0.5}`).attr("fill", "#fff").attr("stroke", "#999");
callout.append("rect").attr("x", bx0).attr("y", by0).attr("width", bx1 - bx0).attr("height", by1 - by0).attr("fill", "#fff").attr("stroke", "#999");
callout.append("text").attr("x", (bx0 + bx1) / 2).attr("y", by0 + 15).attr("text-anchor", "middle")
  .style("font-size", "11px").attr("fill", "#ee0000").text("Breakdown");

// ---------- vertical markers ----------
svg.append("line").attr("x1", x(idx(redLineDay))).attr("x2", x(idx(redLineDay))).attr("y1", panels.price[0]).attr("y2", panels.rut[1])
  .attr("stroke", "#ff0000").attr("stroke-width", 2).attr("stroke-dasharray", "4,3");
svg.append("line").attr("x1", x(idx(greenLineDay))).attr("x2", x(idx(greenLineDay))).attr("y1", panels.price[0]).attr("y2", panels.rut[1])
  .attr("stroke", "#006400").attr("stroke-width", 1).attr("stroke-dasharray", "3,2");

// ---------- signal arrows ----------
function arrow(i, tipY, dir, color) {
  const cx = x(i), s = dir === "down" ? -1 : 1, hw = 7.5, sw = 3.5, hh = 8, sh = 8;
  svg.append("path")
    .attr("d", `M${cx},${tipY}L${cx + hw},${tipY + s * hh}L${cx + sw},${tipY + s * hh}L${cx + sw},${tipY + s * (hh + sh)}` +
      `L${cx - sw},${tipY + s * (hh + sh)}L${cx - sw},${tipY + s * hh}L${cx - hw},${tipY + s * hh}Z`)
    .attr("fill", color);
}
arrow(91.7, yV(2.17), "down", "#ff0000");
arrow(93.9, yV(3.0), "down", "#ff0000");
arrow(99.9, yV(2.77), "down", "#006400");
arrow(99.0, yV(2.2), "down", "#ff0000");
arrow(94.0, yM(2.1), "down", "#ff0000");
arrow(102, yO(-9.5), "up", "#006400");
arrow(91.2, yA(23.1), "up", "#ff0000");
arrow(95.4, yS(60.5), "down", "#ff0000");
arrow(98, yR(1.6483), "up", "#777");
</script>
</body>
</html>
